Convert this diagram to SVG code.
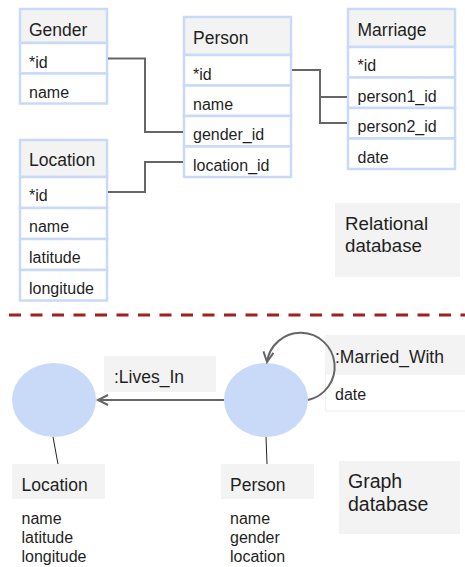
<svg xmlns="http://www.w3.org/2000/svg" width="465" height="567" viewBox="0 0 465 567">
<style>
text{font-family:"Liberation Sans",Arial,sans-serif;fill:#1f1f1f}
.h{font-size:17.5px}
.r{font-size:16px}
.big{font-size:18.7px}
.hc{fill:#f3f3f3;stroke:#c9daf8;stroke-width:2.5}
.rc{fill:#ffffff;stroke:#c9daf8;stroke-width:2.5}
.conn{fill:none;stroke:#666666;stroke-width:2}
.lbl{fill:#f3f3f3;stroke:none}
.node{fill:#c9daf8}
.thin{stroke:#222;stroke-width:1;fill:none}
</style>
<defs>
<marker id="arr" markerWidth="14" markerHeight="14" refX="11" refY="6" orient="auto" markerUnits="userSpaceOnUse">
<path d="M1,1 L11,6 L1,11" fill="none" stroke="#666666" stroke-width="2"/>
</marker>
</defs>

<g id="gender">
<rect class="hc" x="20" y="9" width="87" height="34"/>
<rect class="rc" x="20" y="43" width="87" height="30.5"/>
<rect class="rc" x="20" y="73.5" width="87" height="30"/>
<text class="h" x="29" y="36">Gender</text>
<text class="r" x="29" y="68">*id</text>
<text class="r" x="29" y="97.5">name</text>
</g>

<g id="person">
<rect class="hc" x="184" y="17" width="107" height="38"/>
<rect class="rc" x="184" y="55" width="107" height="30.5"/>
<rect class="rc" x="184" y="85.5" width="107" height="30.5"/>
<rect class="rc" x="184" y="116" width="107" height="30.5"/>
<rect class="rc" x="184" y="146.5" width="107" height="30.5"/>
<text class="h" x="193" y="43.5">Person</text>
<text class="r" x="193" y="79.5">*id</text>
<text class="r" x="193" y="110">name</text>
<text class="r" x="193" y="140">gender_id</text>
<text class="r" x="193" y="170.5">location_id</text>
</g>

<g id="marriage">
<rect class="hc" x="348" y="9" width="107" height="38"/>
<rect class="rc" x="348" y="47" width="107" height="30.5"/>
<rect class="rc" x="348" y="77.5" width="107" height="30.5"/>
<rect class="rc" x="348" y="108" width="107" height="30.5"/>
<rect class="rc" x="348" y="138.5" width="107" height="30.5"/>
<text class="h" x="357.5" y="35.5">Marriage</text>
<text class="r" x="357.5" y="71">*id</text>
<text class="r" x="357.5" y="101.5">person1_id</text>
<text class="r" x="357.5" y="132">person2_id</text>
<text class="r" x="357.5" y="162.5">date</text>
</g>

<g id="location">
<rect class="hc" x="20" y="140" width="87" height="37"/>
<rect class="rc" x="20" y="177" width="87" height="31"/>
<rect class="rc" x="20" y="208" width="87" height="31"/>
<rect class="rc" x="20" y="239" width="87" height="31"/>
<rect class="rc" x="20" y="270" width="87" height="30.5"/>
<text class="h" x="29" y="166">Location</text>
<text class="r" x="29" y="201">*id</text>
<text class="r" x="29" y="232">name</text>
<text class="r" x="29" y="262.5">latitude</text>
<text class="r" x="29" y="293.5">longitude</text>
</g>

<g id="relational-label">
<rect class="lbl" x="335" y="203" width="125" height="74"/>
<text class="big" x="345" y="230">Relational</text>
<text class="big" x="345" y="252">database</text>
</g>

<g id="graph-location">
<ellipse class="node" cx="54" cy="400" rx="42" ry="37"/>
</g>
<g id="graph-person">
<ellipse class="node" cx="266" cy="400" rx="42" ry="37"/>
</g>

<g id="lives-in-label">
<rect class="lbl" x="104" y="356" width="112" height="36"/>
<text class="h" x="114" y="383">:Lives_In</text>
</g>

<g id="married-with-label">
<rect x="325.5" y="374" width="142" height="37" fill="#ffffff" stroke="#efefef" stroke-width="1"/>
<rect class="lbl" x="325" y="335" width="142" height="39"/>
<text class="h" x="335" y="362.5">:Married_With</text>
<text class="r" x="335" y="400">date</text>
</g>

<g id="location-props">
<rect class="lbl" x="12" y="464" width="93" height="35"/>
<text class="h" x="21.5" y="491">Location</text>
<text class="r" x="21.5" y="524">name</text>
<text class="r" x="21.5" y="543">latitude</text>
<text class="r" x="21.5" y="562">longitude</text>
</g>

<g id="person-props">
<rect class="lbl" x="221" y="464" width="93" height="35"/>
<text class="h" x="230" y="491">Person</text>
<text class="r" x="230" y="524">name</text>
<text class="r" x="230" y="543">gender</text>
<text class="r" x="230" y="562">location</text>
</g>

<g id="graph-label">
<rect class="lbl" x="339" y="461" width="121" height="73"/>
<text class="big" x="348" y="488" style="font-size:19.5px">Graph</text>
<text class="big" x="348" y="510.5" style="font-size:19.5px">database</text>
</g>

<g id="connectors">
<path class="conn" d="M108,58.5 H145 V132 H183"/>
<path class="conn" d="M108,192 H145 V162 H183"/>
<path class="conn" d="M292,70 H320 V123 H347"/>
<path class="conn" d="M320,97 H347"/>
<line x1="9" y1="315" x2="465" y2="315" stroke="#a11f1f" stroke-width="3" stroke-dasharray="12,9.5"/>
<path class="conn" d="M224,400 H98" marker-end="url(#arr)"/>
<path class="conn" d="M308,400 A34,34 0 1 0 267,362" marker-end="url(#arr)"/>
<line class="thin" x1="53" y1="437" x2="58" y2="464"/>
<line class="thin" x1="266" y1="437" x2="267" y2="464"/>
</g>
</svg>
